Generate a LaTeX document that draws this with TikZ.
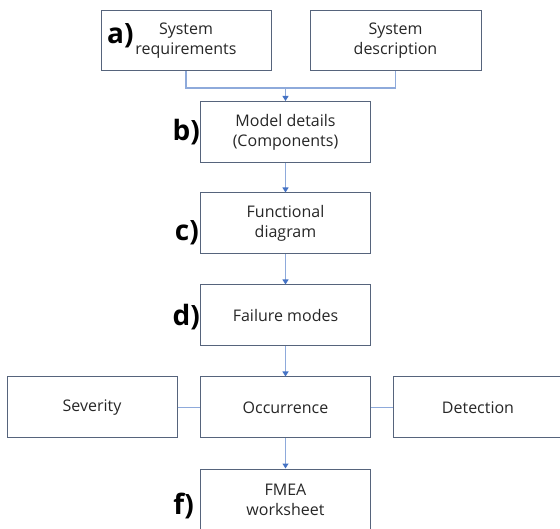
\documentclass[tikz,border=0pt]{standalone}
\usepackage{fontspec}
\setmainfont{Open Sans}
\usetikzlibrary{arrows.meta}
\definecolor{boxc}{HTML}{56647C}
\definecolor{linec}{HTML}{8EAADB}
\definecolor{arrc}{HTML}{4472C4}
\definecolor{txtc}{HTML}{262626}
\tikzset{
  box/.style={draw=boxc, line width=1pt, minimum width=170pt, minimum height=61pt, inner sep=0pt, align=center, text=txtc, font=\fontsize{16}{20}\selectfont},
  conn/.style={draw=linec, line width=1.1pt},
  arr/.style={conn, -{Triangle[length=5pt,width=6pt,fill=arrc,color=arrc]}},
  lab/.style={font=\fontsize{28}{30}\selectfont\bfseries, text=black, inner sep=0pt}
}
\begin{document}
\begin{tikzpicture}[x=1pt,y=-1pt]
\useasboundingbox (0,0) rectangle (560,529);
\node[box, minimum height=60pt] (a) at (186,40.5) {System\\requirements};
\node[box, minimum height=60pt, minimum width=171pt] (desc) at (395.5,40.5) {System\\description};
\node[box] (b) at (285.5,132) {Model details\\(Components)};
\node[box] (c) at (285.5,223.5) {Functional\\diagram};
\node[box] (d) at (285.5,315.5) {Failure modes};
\node[box] (sev) at (92,407.5) {Severity};
\node[box] (occ) at (285.5,407.5) {Occurrence};
\node[box] (det) at (478,407.5) {Detection};
\node[box] (f) at (285.5,499.5) {FMEA\\worksheet};
\coordinate (join) at (285.5,88);
\draw[conn] (a.south) |- (join) -| (desc.south);
\draw[arr] (join) -- (b.north);
\draw[arr] (b) -- (c);
\draw[arr] (c) -- (d);
\draw[arr] (d) -- (occ);
\draw[arr] (occ) -- (f);
\draw[conn] (sev) -- (occ);
\draw[conn] (occ) -- (det);
\node[lab, anchor=west] (la) at (107,36) {a)};
\node[lab, anchor=east] (lb) at (200,132) {b)};
\node[lab, anchor=east] (lc) at (199,233) {c)};
\node[lab, anchor=east] (ld) at (200,317) {d)};
\node[lab, anchor=east] (lf) at (194,506) {f)};
\end{tikzpicture}
\end{document}
